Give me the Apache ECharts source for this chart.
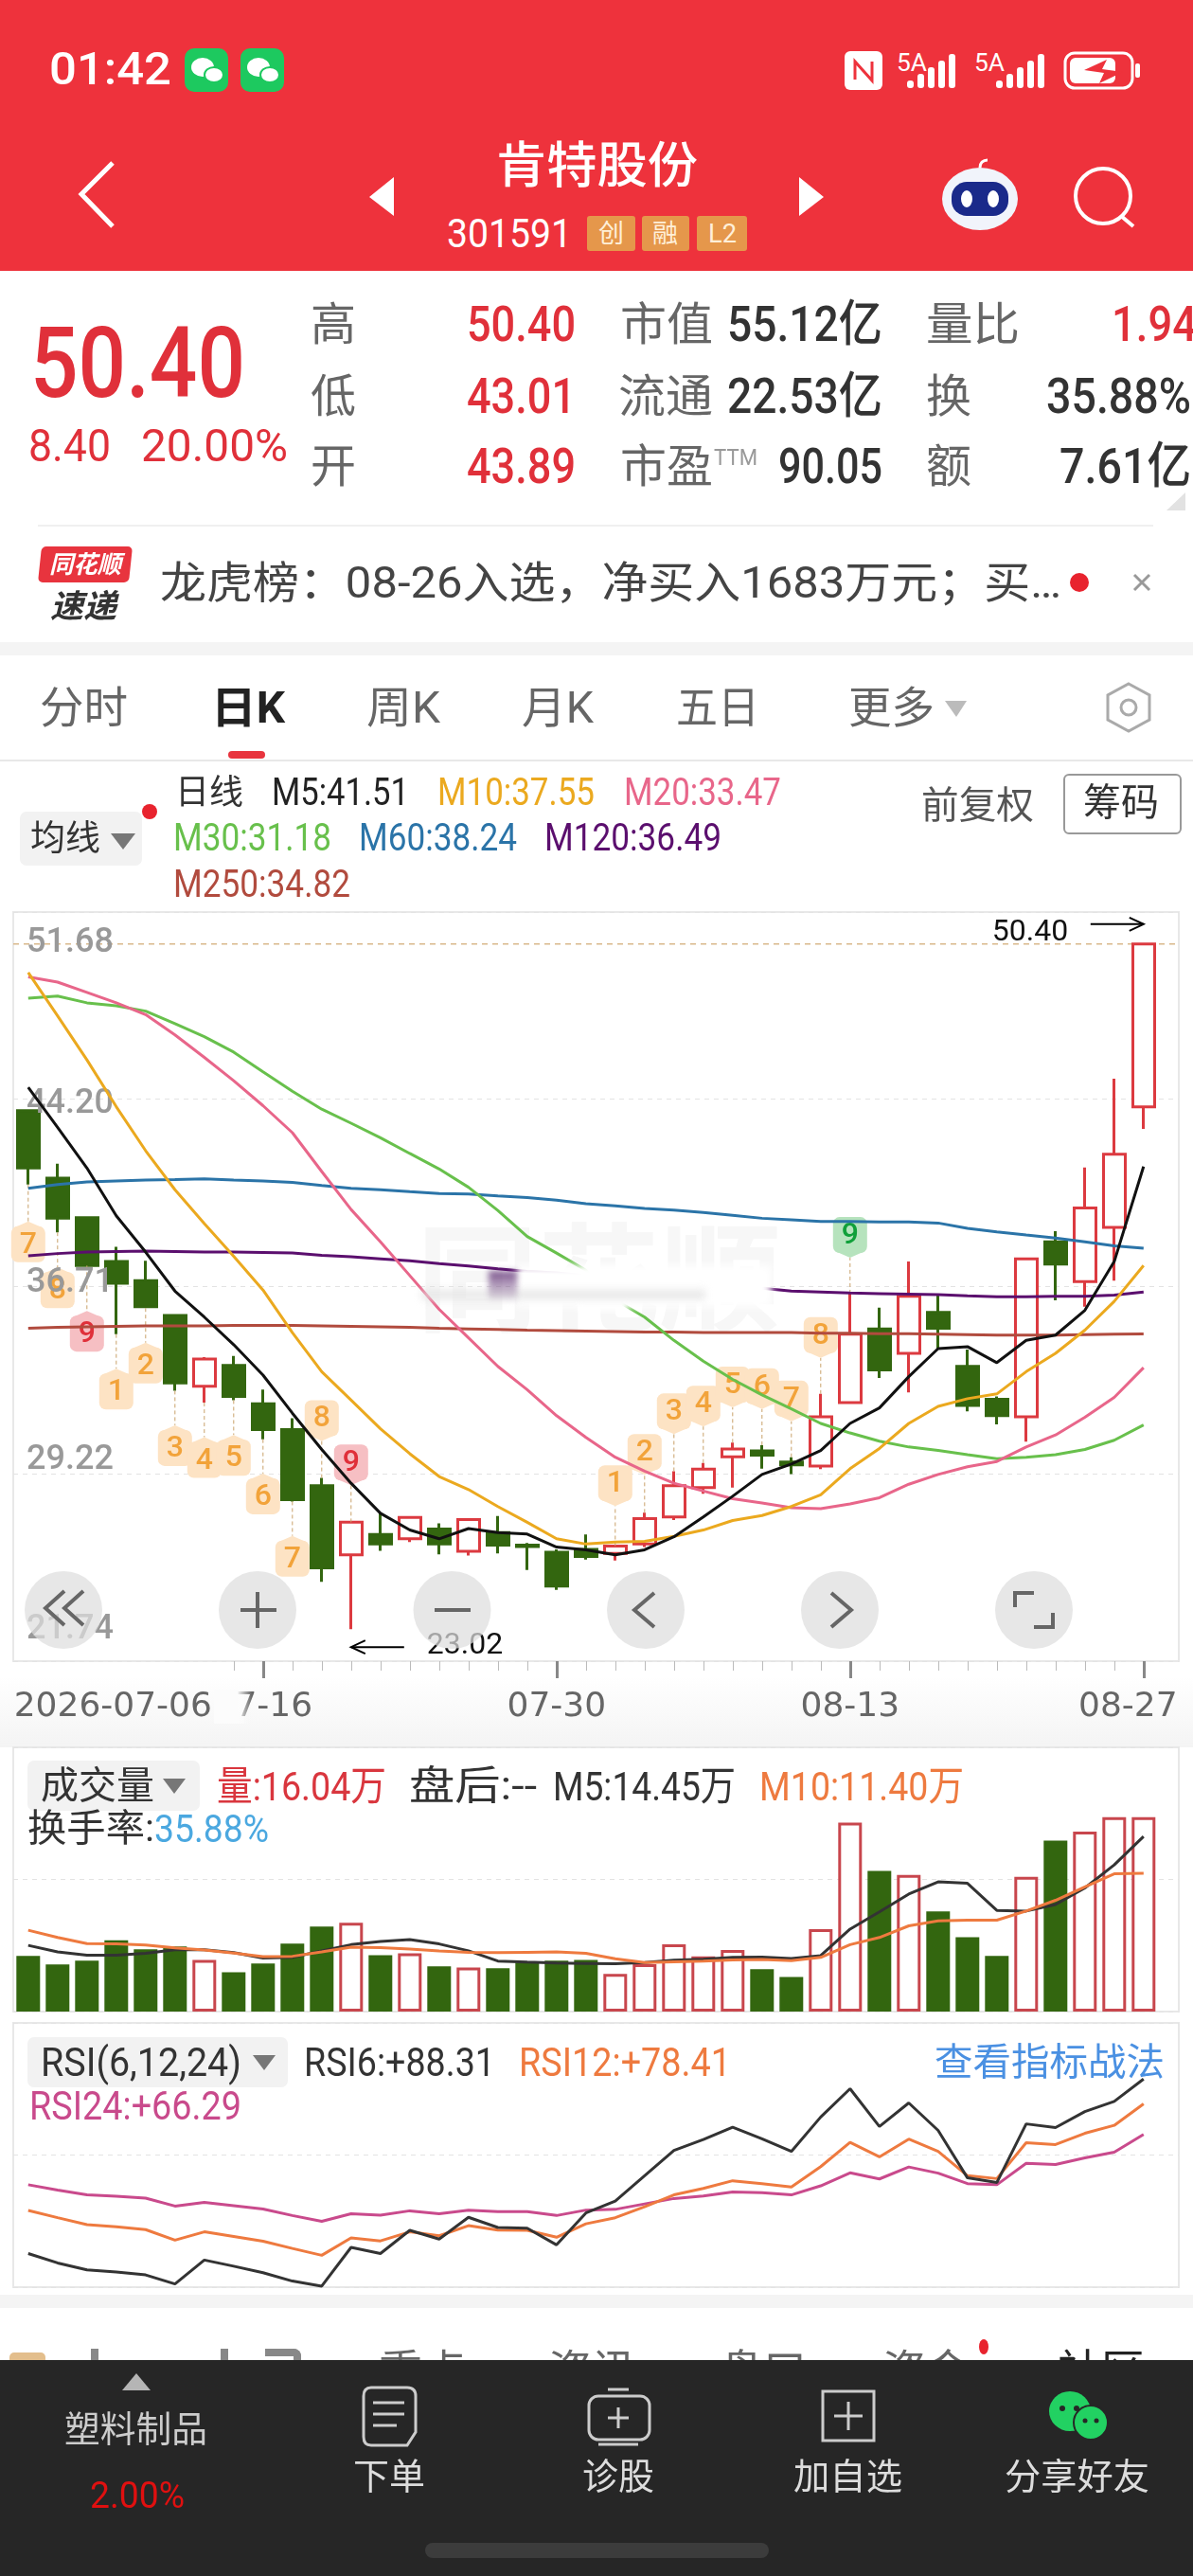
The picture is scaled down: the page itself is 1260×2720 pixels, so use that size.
<!DOCTYPE html>
<html>
<head>
<meta charset="utf-8">
<title>肯特股份</title>
<script src="https://cdn.jsdelivr.net/npm/echarts@6/dist/echarts.min.js"></script>
<style>
html,body{margin:0;padding:0;background:#fff}
#page{position:relative;width:1260px;height:2720px;overflow:hidden;background:#fff}
#under,#over{position:absolute;left:0;top:0;width:1260px;height:2720px;pointer-events:none}
#main{position:absolute;left:0;top:0;width:1260px;height:2720px}
#over svg{position:absolute;left:0;top:0}
.t{position:absolute;white-space:nowrap;line-height:1;transform-origin:0 50%;font-family:Roboto,"Noto Sans CJK SC",sans-serif}
.b{position:absolute}
</style>
</head>
<body>
<div id="page">
  <div id="under"></div>
  <div id="main"></div>
  <div id="over"></div>
</div>
<script>
const dates = ['2026-07-06','07-07','07-08','07-09','07-10','07-13','07-14','07-15','07-16','07-17','07-20','07-21','07-22','07-23','07-24','07-27','07-28','07-29','07-30','07-31',
	'08-03','08-04','08-05','08-06','08-07','08-10','08-11','08-12','08-13','08-14','08-17','08-18','08-19','08-20','08-21','08-24','08-25','08-26','08-27']
const kOpen = [43.74,41.04,39.46,37.71,36.95,35.56,32.73,33.56,32.03,30.99,28.75,25.99,26.80,26.63,27.02,26.13,26.88,26.38,26.09,26.21,26.05,26.42,27.50,28.68,29.91,30.14,29.70,29.54,32.07,35.02,34.04,35.68,33.52,32.21,31.51,38.50,36.91,39.08,43.89]
const kClose = [41.45,39.44,37.55,36.84,35.91,32.86,33.81,32.32,30.99,28.19,25.47,27.29,26.42,27.48,26.42,27.40,26.38,26.32,24.74,25.92,26.34,27.44,28.75,29.41,30.22,29.97,29.58,31.51,34.81,33.38,36.32,35.04,31.96,31.55,37.82,37.61,39.85,42.00,50.40]
const kLow = [40.79,38.88,37.55,34.81,35.85,32.55,32.07,32.17,30.61,28.12,24.91,23.02,26.15,26.50,26.01,25.96,26.05,25.38,24.59,25.80,25.76,26.30,27.38,28.43,28.68,29.43,29.22,29.41,32.03,33.06,32.48,34.19,31.72,31.20,30.51,36.16,35.91,36.95,43.01]
const kHigh = [43.74,41.62,39.50,38.30,37.74,35.56,33.89,33.94,32.59,31.45,29.06,27.29,27.67,27.48,27.25,27.40,27.54,26.46,26.21,26.80,26.34,27.67,29.33,29.66,30.47,30.37,29.89,32.42,36.43,35.87,37.71,36.39,34.19,32.32,37.82,38.92,41.47,45.02,50.40]
const m5 = [44.67,43.07,41.45,39.54,38.09,36.53,35.49,34.39,33.17,31.65,30.20,28.85,27.65,26.98,26.63,27.04,26.88,26.82,26.30,26.19,25.99,26.19,26.71,27.50,28.33,29.20,29.62,30.16,31.24,31.86,33.11,34.23,34.31,33.67,34.56,34.77,35.76,37.71,41.51]
const m10 = [49.26,47.53,45.77,43.90,42.14,40.58,39.23,37.92,36.57,34.87,33.31,32.17,31.03,30.03,29.12,28.60,27.92,27.29,26.63,26.42,26.50,26.53,26.73,26.98,27.36,27.56,27.92,28.39,29.43,30.24,31.24,31.92,32.23,32.42,33.31,34.04,34.97,36.12,37.55]
const m20 = [49.09,48.88,48.47,48.05,47.58,46.77,45.87,44.94,43.94,42.86,41.31,39.79,38.50,37.15,35.80,34.66,33.52,32.59,31.55,30.68,29.89,29.33,28.85,28.54,28.23,28.06,27.87,27.83,28.02,28.27,28.81,29.20,29.51,29.72,30.30,30.78,31.49,32.28,33.47]
const m30 = [48.24,48.32,48.05,47.93,47.72,47.22,46.70,46.08,45.29,44.52,43.80,43.24,42.66,42.03,41.41,40.68,39.75,38.71,38.05,37.36,36.18,35.49,34.56,33.73,33.00,32.38,31.82,31.24,30.86,30.53,30.30,30.16,29.99,29.83,29.89,29.99,30.20,30.57,31.18]
const m60 = [40.64,40.79,40.89,40.93,40.97,40.99,41.02,40.97,40.93,40.87,40.75,40.64,40.58,40.50,40.43,40.41,40.33,40.27,40.16,40.02,39.94,39.83,39.77,39.67,39.56,39.44,39.38,39.31,39.31,39.29,39.29,39.25,39.04,38.90,38.77,38.65,38.50,38.34,38.24]
const m120 = [37.94,38.03,38.09,38.11,38.13,38.11,38.09,38.09,38.07,38.05,37.96,37.90,37.82,37.74,37.63,37.53,37.42,37.32,37.26,37.15,37.01,36.93,36.84,36.78,36.72,36.64,36.53,36.49,36.45,36.43,36.41,36.39,36.34,36.30,36.30,36.32,36.32,36.37,36.49]
const m250 = [35.04,35.08,35.10,35.12,35.14,35.14,35.14,35.16,35.16,35.16,35.14,35.12,35.10,35.08,35.04,35.02,35.00,34.97,34.95,34.93,34.91,34.89,34.89,34.87,34.87,34.87,34.87,34.85,34.85,34.83,34.83,34.81,34.79,34.77,34.77,34.77,34.79,34.81,34.82]
const vol = [4.59,3.88,4.20,5.87,5.13,5.37,4.26,3.25,3.97,5.61,7.01,7.33,4.65,4.80,3.73,3.64,3.58,4.05,4.20,4.26,3.10,3.91,5.55,4.56,5.07,3.49,2.86,6.80,15.59,11.60,11.27,8.26,6.14,4.59,11.12,14.10,14.85,16.04,16.04]
const volM5 = [5.46,4.92,4.65,4.65,4.80,5.10,5.10,4.86,4.41,4.47,5.01,5.52,5.78,5.93,5.58,5.01,4.17,4.08,4.00,3.97,3.94,4.05,4.23,4.32,4.47,4.50,4.38,4.62,6.80,8.23,9.69,10.70,10.58,8.35,8.29,8.83,10.20,12.10,14.45]
const volM10 = [6.71,6.11,5.61,5.58,5.49,5.25,5.07,4.83,4.53,4.56,4.92,5.31,5.28,5.16,5.01,4.89,4.86,4.89,4.92,4.80,4.35,4.05,4.11,4.17,4.26,4.29,4.20,4.47,5.52,6.11,7.07,7.48,7.54,7.54,8.29,9.18,10.29,11.36,11.40]
const rsi6 = [18.96,15.22,12.48,11.62,10.47,6.87,16.37,13.92,11.33,8.02,6.01,21.40,18.96,28.17,24.71,33.35,29.32,29.03,22.41,35.07,39.82,49.89,59.96,64.28,69.17,64.57,59.53,73.20,84.43,69.46,78.81,67.88,49.03,47.16,70.47,69.03,75.36,79.39,88.31]
const rsi12 = [36.08,33.20,30.47,29.60,28.45,24.28,27.59,25.72,23.85,20.97,18.24,25.14,23.99,27.59,26.01,30.04,28.31,28.17,25.43,30.76,33.20,37.52,42.27,44.86,47.88,46.73,45.43,53.49,63.13,57.37,64.43,59.53,49.89,48.74,62.99,62.27,66.73,69.89,78.41]
const rsi24 = [46.30,44.14,42.27,41.69,40.97,37.81,39.25,37.95,36.66,34.07,31.76,34.78,34.21,35.94,34.78,36.22,35.65,35.65,34.07,36.22,36.51,38.67,40.83,41.84,43.42,43.13,42.27,45.86,51.04,48.60,53.35,50.90,46.73,46.30,54.78,54.35,56.94,59.25,66.29]
// 神奇九转 badges
const tdIdx = [0,1,2,3,4,5,6,7,8,9,10,11,20,21,22,23,24,25,26,27,28]
const tdNum = [7,8,9,1,2,3,4,5,6,7,8,9,1,2,3,4,5,6,7,8,9]
const tdVal = [38.40,36.57,34.83,32.52,33.56,30.26,29.78,29.87,28.33,25.84,31.45,29.68,28.85,30.10,31.72,32.03,32.79,32.73,32.23,34.77,38.77]
const tdKind = ['o','o','r','o','o','o','o','o','o','o','o','r','o','o','o','o','o','o','o','o','g']
const priceTicks = [21.74,29.22,36.71,44.20,51.68]
const volTicks = [0,10.9,21.8]
const rsiTicks = [5.6,58.1,110.6]
const dateLabelIdx = [0,8,18,28,38]

const red = '#DC3A40', green = '#33660F'
const fontNum = 'Roboto,"Noto Sans CJK SC",sans-serif'
const fontDate = '"DejaVu Sans",sans-serif'
const n = dates.length

const grids = []
const xAxes = []
const yAxes = []
const series = []
const addPanel = (top, h, ticks) => {
	// frame grid is wider than the candles, like the app
	grids.push({left: 14, width: 1231, top, height: h, show: true, backgroundColor: 'transparent', borderColor: '#e8e8e8', borderWidth: 2})
	const frameIdx = grids.length - 1
	xAxes.push({type: 'value', gridIndex: frameIdx, min: 0, max: 1, show: false})
	yAxes.push({
		type: 'value', gridIndex: frameIdx, min: ticks[0], max: ticks[ticks.length - 1], position: 'left',
		axisLine: {show: false},
		axisTick: {show: false, customValues: ticks},
		splitLine: {show: true, lineStyle: {color: '#e3e3e3', type: [5, 5], width: 1}},
		axisLabel: {show: false}
	})
	grids.push({left: 14.3, width: 1209, top, height: h})
	const k = grids.length - 1
	xAxes.push({type: 'category', gridIndex: k, data: dates, boundaryGap: true, axisLine: {show: false}, axisTick: {show: false}, axisLabel: {show: false}})
	yAxes.push({type: 'value', gridIndex: k, min: ticks[0], max: ticks[ticks.length - 1], show: false})
	return [frameIdx, k]
}
const lineOf = (name, data, color, idx, w) => ({
	name, type: 'line', data, xAxisIndex: idx, yAxisIndex: idx, symbol: 'none', z: 5, silent: true,
	lineStyle: {color, width: w || 3}, itemStyle: {color}
})

// price panel
const [pf, pk] = addPanel(963, 791, priceTicks)
// minor ticks on the candle axis, the first date label covers the early ones
xAxes[pk].axisTick = {show: true, interval: i => i >= 7, alignWithLabel: true, length: 10, lineStyle: {color: '#bbb', width: 1}}
series.push({
	type: 'line', xAxisIndex: pf, yAxisIndex: pf, data: [[0, kClose[n - 1]], [1, kClose[n - 1]]], symbol: 'none', silent: true, z: 1,
	lineStyle: {color: '#D9B98C', type: [6, 5], width: 1.5}
})
series.push({
	type: 'candlestick', xAxisIndex: pk, yAxisIndex: pk, barWidth: 23, z: 2, silent: true,
	data: dates.map((d, i) => [kOpen[i], kClose[i], kLow[i], kHigh[i]]),
	itemStyle: {color: '#fff', color0: green, borderColor: red, borderColor0: green, borderWidth: 3}
})
// badges with their dotted stems
series.push({
	type: 'custom', xAxisIndex: pk, yAxisIndex: pk, z: 3, silent: true, clip: false,
	data: tdIdx.map((x, i) => [x, tdVal[i], tdNum[i], i]),
	renderItem: (params, api) => {
		const x = api.value(0)
		const i = api.value(3)
		const c = api.coord([x, api.value(1)])
		const below = api.value(1) < kLow[x]
		const end = api.coord([x, below ? kLow[x] : kHigh[x]])
		const kind = tdKind[i]
		const fill = kind === 'r' ? '#F6BFC3' : kind === 'g' ? '#B6E3BD' : '#FDE3C4'
		const txt = kind === 'r' ? '#E0303A' : kind === 'g' ? '#10A03A' : '#F2A33A'
		const tip = below ? -1 : 1
		return {
			type: 'group',
			children: [
				{type: 'line', shape: {x1: end[0], y1: end[1], x2: end[0], y2: c[1] + tip * 24}, style: {stroke: '#C9A26A', lineWidth: 1, lineDash: [4, 3]}},
				{type: 'rect', shape: {x: c[0] - 18, y: c[1] - 19, width: 36, height: 38, r: 7}, style: {fill}},
				{type: 'polygon', shape: {points: [[c[0] - 16, c[1] + tip * 17], [c[0] + 16, c[1] + tip * 17], [c[0], c[1] + tip * 24]]}, style: {fill}},
				{type: 'text', style: {text: String(api.value(2)), x: c[0], y: c[1] + 1, align: 'center', verticalAlign: 'middle', fill: txt, font: '500 32px ' + fontNum}}
			]
		}
	}
})
series.push(lineOf('M250', m250, '#B14B3E', pk))
series.push(lineOf('M120', m120, '#5B0F6E', pk))
series.push(lineOf('M60', m60, '#2B74A8', pk))
series.push(lineOf('M30', m30, '#68C04C', pk))
series.push(lineOf('M20', m20, '#E8668A', pk))
series.push(lineOf('M10', m10, '#EBA91F', pk))
series.push(lineOf('M5', m5, '#111', pk))
// highest / lowest price arrows
series.push({
	type: 'custom', xAxisIndex: pk, yAxisIndex: pk, z: 6, silent: true, clip: false,
	data: [[n - 1, kHigh[n - 1], 1], [11, kLow[11], -1]],
	renderItem: (params, api) => {
		const c = api.coord([api.value(0), api.value(1)])
		const hi = api.value(2) > 0
		const y = hi ? c[1] - 21 : c[1] + 19
		const d = hi ? -1 : 1
		const tx = hi ? c[0] - 55 : c[0] + 80
		return {
			type: 'group',
			children: [
				{type: 'line', shape: {x1: c[0], y1: y, x2: c[0] + d * 56, y2: y}, style: {stroke: '#000', lineWidth: 2}},
				{type: 'polyline', shape: {points: [[c[0] + d * 15, y - 7], [c[0], y], [c[0] + d * 15, y + 7]]}, style: {stroke: '#000', lineWidth: 2, fill: 'none'}},
				{type: 'text', style: {text: api.value(1).toFixed(2), x: hi ? tx - 105 : tx, y: hi ? y + 9 : y - 1, align: 'left', verticalAlign: 'middle', fill: '#111', font: '32px ' + fontNum}}
			]
		}
	}
})

// volume panel
const [vf, vk] = addPanel(1845, 279, volTicks)
series.push({
	type: 'bar', xAxisIndex: vk, yAxisIndex: vk, barWidth: 25, z: 2, silent: true,
	data: vol.map((v, i) => kClose[i] >= kOpen[i]
		? {value: v, itemStyle: {color: '#fff', borderColor: '#C8464D', borderWidth: 3}}
		: {value: v, itemStyle: {color: green}})
})
series.push(lineOf('VOL5', volM5, '#333', vk))
series.push(lineOf('VOL10', volM10, '#EE7A3F', vk))

// rsi panel
const [rf, rk] = addPanel(2136, 279, rsiTicks)
series.push(lineOf('RSI24', rsi24, '#C94A8C', rk))
series.push(lineOf('RSI12', rsi12, '#EE7A3F', rk))
series.push(lineOf('RSI6', rsi6, '#333', rk))

// date labels and major ticks, second x axis of the candle grid
xAxes.push({
	type: 'category', gridIndex: pk, data: dates, boundaryGap: true, position: 'bottom',
	axisLine: {show: false},
	axisTick: {show: true, alignWithLabel: true, length: 18, lineStyle: {color: '#888', width: 3}, interval: i => i > 0 && dateLabelIdx.includes(i)},
	axisLabel: {
		show: true, margin: 31, interval: i => dateLabelIdx.includes(i), hideOverlap: false,
		formatter: (v, i) => i === 0 ? '{first|' + v + '}' : i === n - 1 ? '{last|' + v + '}' : '{mid|' + v + '}',
		rich: {
			first: {padding: [0, 0, 0, 179], color: '#666', fontSize: 36, fontFamily: fontDate},
			mid: {color: '#666', fontSize: 36, fontFamily: fontDate},
			last: {padding: [0, 33, 0, 0], color: '#666', fontSize: 36, fontFamily: fontDate}
		}
	}
})
// price labels sit above the candles and badges but under the lines
const pStyle = {color: '#999', fontSize: 36, fontWeight: 500, fontFamily: fontNum}
yAxes.push({
	type: 'value', gridIndex: pf, min: priceTicks[0], max: priceTicks[4], position: 'left', z: 4,
	axisLine: {show: false},
	axisTick: {show: false, customValues: priceTicks},
	splitLine: {show: false},
	axisLabel: {
		show: true, inside: true, margin: 14, customValues: priceTicks,
		formatter: v => '{' + 'abcde'[priceTicks.indexOf(v)] + '|' + v.toFixed(2) + '}',
		rich: {
			a: Object.assign({padding: [0, 0, 66, 0]}, pStyle),
			b: Object.assign({padding: [0, 0, 28, 0]}, pStyle),
			c: Object.assign({padding: [0, 0, 8, 0]}, pStyle),
			d: Object.assign({padding: [10, 0, 0, 0]}, pStyle),
			e: Object.assign({padding: [66, 0, 0, 0]}, pStyle)
		}
	}
})

const option = {
	animation: false,
	backgroundColor: 'transparent',
	grid: grids,
	xAxis: xAxes,
	yAxis: yAxes,
	series,
	graphic: [{
		// the first date label fades the next one out
		type: 'rect', z: 100, shape: {x: 226, y: 1784, width: 40, height: 36},
		style: {fill: {type: 'linear', x: 0, y: 0, x2: 1, y2: 0, colorStops: [{offset: 0, color: 'rgba(252,252,252,1)'}, {offset: .6, color: 'rgba(252,252,252,1)'}, {offset: 1, color: 'rgba(252,252,252,0)'}]}}
	}]
}
const myecharts = echarts.init(document.getElementById('main'))
myecharts.setOption(option)

// everything around the chart: plain text on top of the page
const over = document.getElementById('over')
const under = document.getElementById('under')
const box = (parent, x, y, w, h, css) => {
	const d = document.createElement('div')
	d.className = 'b'
	d.style.cssText = 'left:' + x + 'px;top:' + y + 'px;width:' + w + 'px;height:' + h + 'px;' + (css || '')
	parent.appendChild(d)
	return d
}
const put = (text, x, y, size, color, o) => {
	o = o || {}
	const s = document.createElement('span')
	s.className = 't'
	s.textContent = text
	s.style.fontSize = size + 'px'
	s.style.color = color
	s.style.fontWeight = o.weight || 400
	s.style.left = x + 'px'
	s.style.top = y + 'px'
	if (o.italic) s.style.fontStyle = 'italic'
	;(o.parent || over).appendChild(s)
	let sx = 1
	if (o.w) sx = o.w / s.getBoundingClientRect().width
	s.style.transform = 'translateY(-50%) scaleX(' + sx + ')'
	return s
}

// under the chart
box(under, 0, 1770, 1260, 75, 'background:linear-gradient(#fff,#f4f4f4)')
put('同花顺', 440, 1354, 124, '#F7F7F7', {parent: under, weight: 700, w: 385})

// header
box(over, 0, 0, 1260, 286, 'background:#EE323C')
put('01:42', 52, 73, 48, '#fff', {weight: 500, w: 129})
box(over, 620, 228, 51, 37, 'background:#E5974B;border-radius:3px')
box(over, 678, 228, 50, 37, 'background:#E5974B;border-radius:3px')
box(over, 736, 228, 53, 37, 'background:#E5974B;border-radius:3px')
put('肯特股份', 524, 176, 52, '#fff', {weight: 500, w: 213})
put('301591', 472, 247, 42, '#fff', {w: 132})
put('创', 632, 247, 27, '#FFEFD8')
put('融', 689, 247, 27, '#FFEFD8')
put('L2', 748, 247, 27, '#FFEFD8', {w: 30})
put('5A', 947, 66, 26, '#fff', {w: 32})
put('5A', 1029, 66, 26, '#fff', {w: 32})

// quote
put('50.40', 32, 383, 103, '#E0303A', {weight: 500, w: 227})
put('8.40', 30, 470, 49, '#E0303A', {w: 87})
put('20.00%', 149, 470, 49, '#E0303A', {w: 155})
const rowY = [343, 419, 493]
;['高', '低', '开'].forEach((t, i) => put(t, 328, rowY[i], 48, '#666'))
;['50.40', '43.01', '43.89'].forEach((t, i) => put(t, 493, rowY[i], 52, '#E0303A', {w: 115, weight: 500}))
put('市值', 655, rowY[0], 48, '#666', {w: 98})
put('流通', 653, rowY[1], 48, '#666', {w: 100})
put('市盈', 655, rowY[2], 48, '#666', {w: 98})
put('TTM', 754, rowY[2] - 10, 24, '#999', {w: 46})
put('55.12亿', 768, rowY[0], 52, '#333', {w: 164, weight: 500})
put('22.53亿', 768, rowY[1], 52, '#333', {w: 164, weight: 500})
put('90.05', 822, rowY[2], 52, '#333', {w: 110, weight: 500})
put('量比', 978, rowY[0], 48, '#666', {w: 99})
put('换', 978, rowY[1], 48, '#666')
put('额', 978, rowY[2], 48, '#666')
put('1.94', 1174, rowY[0], 52, '#E0303A', {w: 90, weight: 500})
put('35.88%', 1105, rowY[1], 52, '#333', {w: 153, weight: 500})
put('7.61亿', 1119, rowY[2], 52, '#333', {w: 139, weight: 500})
box(over, 40, 554, 1178, 2, 'background:#f0f0f0')

// news strip
box(over, 42, 577, 96, 38, 'background:#E8343E;border-radius:5px;transform:skewX(-6deg)')
put('同花顺', 52, 596, 26, '#fff', {weight: 700, italic: true, w: 76})
put('速递', 53, 640, 34, '#333', {weight: 700, italic: true, w: 70})
put('龙虎榜：08-26入选，净买入1683万元；买…', 169, 615, 46, '#444', {w: 952})
box(over, 1130, 605, 20, 20, 'background:#E8232E;border-radius:50%')
box(over, 0, 678, 1260, 14, 'background:#f4f4f4')

// tabs
;[['分时', 42, 93, '#666', 400], ['日K', 223, 78, '#222', 700], ['周K', 387, 78, '#666', 400], ['月K', 551, 76, '#666', 400], ['五日', 714, 88, '#666', 400], ['更多', 896, 91, '#666', 400]]
	.forEach(a => put(a[0], a[1], 747, 46, a[3], {w: a[2], weight: a[4]}))
box(over, 241, 793, 39, 8, 'background:#E8343E;border-radius:4px')
box(over, 0, 802, 1260, 2, 'background:#e8e8e8')

// ma legend
put('日线', 185, 837, 36, '#333', {w: 72})
put('M5:41.51', 287, 837, 40, '#222', {w: 145})
put('M10:37.55', 462, 837, 40, '#EBA91F', {w: 166})
put('M20:33.47', 659, 837, 40, '#E8668A', {w: 166})
put('M30:31.18', 183, 885, 40, '#68C04C', {w: 167})
put('M60:38.24', 379, 885, 40, '#2B74A8', {w: 167})
put('M120:36.49', 575, 885, 40, '#5B0F6E', {w: 187})
put('M250:34.82', 183, 934, 40, '#B14B3E', {w: 187})
box(over, 21, 857, 129, 57, 'background:#f2f2f2;border-radius:7px')
put('均线', 32, 885, 37, '#333')
box(over, 150, 849, 16, 16, 'background:#E8232E;border-radius:50%')
put('前复权', 973, 851, 40, '#555', {w: 119})
box(over, 1123, 817, 121, 60, 'border:2px solid #999;border-radius:6px;background:#fff')
put('筹码', 1144, 848, 40, '#333')

// volume legend
box(over, 29, 1859, 182, 53, 'background:#f2f2f2;border-radius:7px')
put('成交量', 43, 1886, 40, '#333', {w: 120})
put('量:16.04万', 229, 1886, 43, '#D9363E', {w: 179})
put('盘后:--', 432, 1886, 42, '#333', {w: 135})
put('M5:14.45万', 584, 1886, 43, '#333', {w: 193})
put('M10:11.40万', 802, 1886, 43, '#EE7A3F', {w: 216})
put('换手率:', 29, 1931, 40, '#333', {w: 134})
put('35.88%', 163, 1931, 41, '#4BA8E0', {w: 121})

// rsi legend
box(over, 29, 2151, 275, 53, 'background:#f2f2f2;border-radius:7px')
put('RSI(6,12,24)', 43, 2178, 42, '#333', {w: 212})
put('RSI6:+88.31', 321, 2178, 42, '#333', {w: 202})
put('RSI12:+78.41', 548, 2178, 42, '#EE7A3F', {w: 224})
put('查看指标战法', 987, 2178, 40, '#4A90E2', {w: 243})
put('RSI24:+66.29', 31, 2224, 42, '#C94A8C', {w: 224})

// bottom tabs, mostly hidden behind the bar
box(over, 0, 2423, 1260, 14, 'background:#f4f4f4')
;[['重点', 400, '#666'], ['资讯', 579, '#666'], ['盘口', 760, '#666'], ['资金', 932, '#666'], ['社区', 1117, '#222']]
	.forEach(a => put(a[0], a[1], 2503, 46, a[2]))
box(over, 1034, 2470, 10, 16, 'background:#E8232E;border-radius:50%')
box(over, 10, 2484, 38, 12, 'background:#E3BE8C;border-radius:5px 5px 0 0')
box(over, 96, 2480, 8, 16, 'background:#888')
box(over, 233, 2480, 8, 16, 'background:#888')
box(over, 280, 2480, 38, 16, 'border-top:8px solid #888;border-right:8px solid #888;border-radius:0 8px 0 0;box-sizing:border-box')

// footer
box(over, 0, 2492, 1260, 228, 'background:#262626')
put('塑料制品', 68, 2565, 38, '#ccc', {w: 151})
put('2.00%', 95, 2635, 38, '#E01010', {w: 100})
put('下单', 373, 2615, 38, '#ddd', {w: 76})
put('诊股', 615, 2615, 38, '#ddd', {w: 76})
put('加自选', 838, 2615, 38, '#ddd', {w: 115})
put('分享好友', 1061, 2615, 38, '#ddd', {w: 153})
box(over, 449, 2685, 363, 16, 'background:#3c3c3c;border-radius:8px')

// blurred watermark streak that hides the lines in the middle
box(over, 545, 1336, 270, 44, 'background:#fff;filter:blur(4px)')
box(over, 612, 1340, 50, 44, 'background:#fff;filter:blur(3px)')
box(over, 445, 1362, 300, 10, 'background:#e2e2e2;filter:blur(4px);opacity:.8')
box(over, 516, 1342, 30, 30, 'background:linear-gradient(#5b2a70,rgba(91,42,112,.1));filter:blur(3px);opacity:.8')

// icons
const wx = (x, y) => '<rect x="' + x + '" y="' + y + '" width="46" height="46" rx="10" fill="#1DC95F"/>' +
	'<ellipse cx="' + (x + 19) + '" cy="' + (y + 20) + '" rx="12" ry="10" fill="#fff"/>' +
	'<ellipse cx="' + (x + 31) + '" cy="' + (y + 28) + '" rx="10" ry="8" fill="#fff" stroke="#1DC95F" stroke-width="2"/>'
const bars = (x, y) => [0, 1, 2, 3, 4].map(i => '<rect x="' + (x + i * 11) + '" y="' + (y - 8 - i * 7) + '" width="7" height="' + (8 + i * 7) + '" rx="3" fill="#fff"/>').join('')
const btn = cx => '<circle cx="' + cx + '" cy="1700" r="41" fill="rgba(222,222,222,.72)"/>'
const svg = '<svg width="1260" height="2720" xmlns="http://www.w3.org/2000/svg">' +
	wx(195, 51) + wx(254, 51) +
	'<rect x="892" y="54" width="40" height="41" rx="6" fill="#fff"/><path d="M903 84V65l18 20V65" stroke="#EE323C" stroke-width="3" fill="none"/>' +
	bars(958, 93) + bars(1052, 93) +
	'<rect x="1125" y="56" width="71" height="37" rx="10" fill="none" stroke="#fff" stroke-width="3"/><rect x="1130" y="61" width="48" height="27" rx="6" fill="#fff"/>' +
	'<path d="M1145 74l24-11-5 10 22 3-25 12 5-11z" fill="#EE323C"/><rect x="1199" y="67" width="5" height="15" rx="2" fill="#fff"/>' +
	'<path d="M119 172L86 205l33 34" stroke="#fff" stroke-width="5" fill="none"/>' +
	'<path d="M416 187v41l-26-20z" fill="#fff"/><path d="M844 187v41l26-20z" fill="#fff"/>' +
	'<ellipse cx="1035" cy="210" rx="40" ry="33" fill="#F1F4FB"/><rect x="1005" y="192" width="60" height="36" rx="16" fill="#1A2A8A"/>' +
	'<ellipse cx="1021" cy="210" rx="6" ry="9" fill="#fff"/><ellipse cx="1049" cy="210" rx="6" ry="9" fill="#fff"/><path d="M1035 177c0-5 3-8 8-8" stroke="#fff" stroke-width="3" fill="none"/>' +
	'<circle cx="1165" cy="207" r="29" fill="none" stroke="#fff" stroke-width="4"/><path d="M1184 228l13 11" stroke="#fff" stroke-width="4"/>' +
	'<path d="M1232 539h20v-19z" fill="#e2e2e2"/>' +
	'<path d="M1198 607l16 16M1214 607l-16 16" stroke="#999" stroke-width="3"/>' +
	'<path d="M998 740h23l-11 17z" fill="#bbb"/>' +
	'<path d="M1192 722l22 12v26l-22 12-22-12v-26z" fill="none" stroke="#aaa" stroke-width="3"/><circle cx="1192" cy="747" r="8" fill="none" stroke="#aaa" stroke-width="3"/>' +
	'<path d="M117 880h26l-13 17z" fill="#777"/>' +
	'<path d="M172 1878h24l-12 16z" fill="#777"/><path d="M267 2170h24l-12 16z" fill="#777"/>' +
	btn(67) + btn(272) + btn(477.5) + btn(682) + btn(887) + btn(1092) +
	'<path d="M68 1680L48 1698l20 18M88 1680L68 1698l20 18" stroke="#666" stroke-width="4" fill="none"/>' +
	'<path d="M254 1700h38M272 1681v38" stroke="#666" stroke-width="4"/><path d="M459 1700h38" stroke="#666" stroke-width="4"/>' +
	'<path d="M691 1682L670 1700l21 18" stroke="#666" stroke-width="4" fill="none"/><path d="M878 1682L899 1700l-21 18" stroke="#666" stroke-width="4" fill="none"/>' +
	'<path d="M1072 1697v-15h20M1112 1703v15h-20" stroke="#666" stroke-width="4" fill="none"/>' +
	'<path d="M129 2524l15-18 15 18z" fill="#b5b5b5"/>' +
	'<path d="M392 2521h38q9 0 9 9v38l-9 14h-38q-8 0-8-9v-43q0-9 8-9zM394 2537h33M394 2549h33M394 2561h25" fill="none" stroke="#ccc" stroke-width="3"/>' +
	'<rect x="622" y="2530" width="64" height="46" rx="10" fill="none" stroke="#ccc" stroke-width="3"/><path d="M642 2523h22M653 2542v22M642 2553h22M632 2581h42" stroke="#ccc" stroke-width="3"/>' +
	'<rect x="869" y="2525" width="54" height="52" fill="none" stroke="#ccc" stroke-width="3"/><path d="M881 2551h30M896 2536v30" stroke="#ccc" stroke-width="3"/>' +
	'<ellipse cx="1130" cy="2546" rx="22" ry="21" fill="#22D162"/><ellipse cx="1152" cy="2558" rx="18" ry="18" fill="#22D162" stroke="#262626" stroke-width="2"/>' +
	'<circle cx="1122" cy="2543" r="3" fill="#262626"/><circle cx="1137" cy="2543" r="3" fill="#262626"/><circle cx="1146" cy="2556" r="2.5" fill="#262626"/><circle cx="1158" cy="2556" r="2.5" fill="#262626"/>' +
	'</svg>'
const holder = document.createElement('div')
holder.innerHTML = svg
over.appendChild(holder.firstChild)
</script>
</body>
</html>
